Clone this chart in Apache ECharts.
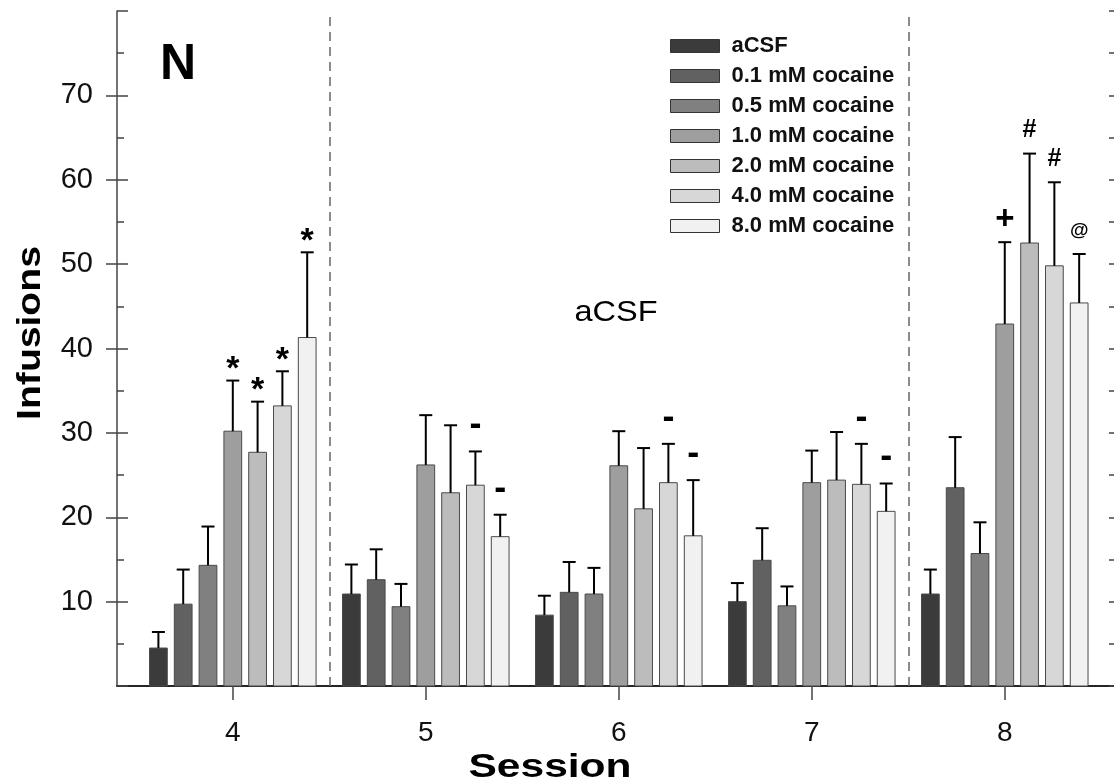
<!DOCTYPE html>
<html>
<head>
<meta charset="utf-8">
<script src="https://cdn.jsdelivr.net/npm/echarts@6.0.0/dist/echarts.min.js"></script>
<style>
html,body{margin:0;padding:0;background:#fff;}
#chart{width:1114px;height:784px;}
</style>
</head>
<body>
<div id="chart"></div>
<script>
// ---- data ----
const sessions = [4, 5, 6, 7, 8];
const treatments = ['aCSF', '0.1 mM cocaine', '0.5 mM cocaine', '1.0 mM cocaine', '2.0 mM cocaine', '4.0 mM cocaine', '8.0 mM cocaine'];
const yTickLabels = [10, 20, 30, 40, 50, 60, 70];
const sessionDividers = [4.5, 7.5];

const meanACSF = [4.5, 10.9, 8.4, 10.0, 10.9];
const mean01 = [9.7, 12.6, 11.1, 14.9, 23.5];
const mean05 = [14.3, 9.4, 10.9, 9.5, 15.7];
const mean10 = [30.2, 26.2, 26.1, 24.1, 42.9];
const mean20 = [27.7, 22.9, 21.0, 24.4, 52.5];
const mean40 = [33.2, 23.8, 24.1, 23.9, 49.8];
const mean80 = [41.3, 17.7, 17.8, 20.7, 45.4];

const semACSF = [1.9, 3.5, 2.3, 2.2, 2.9];
const sem01 = [4.1, 3.6, 3.6, 3.8, 6.0];
const sem05 = [4.6, 2.7, 3.1, 2.3, 3.7];
const sem10 = [6.0, 5.9, 4.1, 3.8, 9.7];
const sem20 = [6.0, 8.0, 7.2, 5.7, 10.6];
const sem40 = [4.1, 4.0, 4.6, 4.8, 9.9];
const sem80 = [10.1, 2.6, 6.6, 3.3, 5.8];

const markACSF = ['', '', '', '', ''];
const mark01 = ['', '', '', '', ''];
const mark05 = ['', '', '', '', ''];
const mark10 = ['*', '', '', '', '+'];
const mark20 = ['*', '', '', '', '#'];
const mark40 = ['*', '-', '-', '-', '#'];
const mark80 = ['*', '-', '-', '-', '@'];

// ---- styling ----
const FONT = '"Liberation Sans", Arial, Helvetica, sans-serif';
const barColors = ['#3b3b3b', '#616161', '#808080', '#9e9e9e', '#bcbcbc', '#d7d7d7', '#f1f1f1'];
const means = [meanACSF, mean01, mean05, mean10, mean20, mean40, mean80];
const sems = [semACSF, sem01, sem05, sem10, sem20, sem40, sem80];
const marks = [markACSF, mark01, mark05, mark10, mark20, mark40, mark80];

const markStyle = {
  '*': { font: 'bold 34px ' + FONT, dy: -11 },
  '-': { font: 'bold 36px ' + FONT, dy: -26 },
  '+': { font: 'bold 33px ' + FONT, dy: -22 },
  '#': { font: 'bold 25px ' + FONT, dy: -23 },
  '@': { font: 'bold 19px ' + FONT, dy: -23 }
};

const X_MIN = 3.4;
const X_MAX = 8.566;

function makeSeries(i) {
  const data = sessions.map((s, k) => [s, means[i][k], sems[i][k]]);
  return {
    type: 'custom',
    name: treatments[i],
    xAxisIndex: 0,
    yAxisIndex: 0,
    data: data,
    encode: { x: 0, y: 1 },
    itemStyle: { color: barColors[i], borderColor: '#4a4a4a', borderWidth: 1 },
    renderItem: function (params, api) {
      const x = api.value(0);
      const m = api.value(1);
      const s = api.value(2);
      const unit = api.size([1, 0])[0];
      const cx = api.coord([x, 0])[0] + (i - 3) * unit * 0.1285;
      const w = unit * 0.092;
      const base = api.coord([x, 0])[1];
      const top = api.coord([x, m])[1];
      const cap = api.coord([x, m + s])[1];
      const children = [
        { type: 'rect', shape: { x: cx - w / 2, y: top, width: w, height: base - top },
          style: { fill: barColors[i], stroke: '#4a4a4a', lineWidth: 1 } },
        { type: 'line', shape: { x1: cx, y1: top, x2: cx, y2: cap },
          style: { stroke: '#000', lineWidth: 2 } },
        { type: 'line', shape: { x1: cx - 6.5, y1: cap, x2: cx + 6.5, y2: cap },
          style: { stroke: '#000', lineWidth: 2 } }
      ];
      const mk = marks[i][params.dataIndex];
      if (mk) {
        const st = markStyle[mk];
        children.push({ type: 'text', x: cx, y: cap + st.dy,
          style: { text: mk, font: st.font, fill: '#000', align: 'center', verticalAlign: 'middle' } });
      }
      return { type: 'group', children: children };
    }
  };
}

const series = treatments.map((t, i) => makeSeries(i));
series.push({
  type: 'line', name: 'dividers', data: [], xAxisIndex: 0, yAxisIndex: 0,
  silent: true,
  markLine: {
    silent: true, symbol: 'none', animation: false,
    label: { show: false },
    lineStyle: { color: '#666', width: 1.5, type: [9, 6] },
    data: sessionDividers.map(v => ({ xAxis: v }))
  }
});

const axisColor = '#444';
const chart = echarts.init(document.getElementById('chart'), null, { renderer: 'canvas' });
chart.setOption({
  animation: false,
  backgroundColor: '#fff',
  textStyle: { fontFamily: FONT },
  grid: { left: 117, top: 11, right: 0, bottom: 98, containLabel: false },
  legend: {
    orient: 'vertical', left: 670, top: 35, padding: 0,
    itemWidth: 49, itemHeight: 13, itemGap: 8, icon: 'rect',
    selectedMode: false,
    textStyle: { fontSize: 22, fontWeight: 'bold', color: '#111', fontFamily: FONT, lineHeight: 22, padding: [0, 0, 0, 7] },
    data: treatments.map((t, i) => ({ name: t, itemStyle: { color: barColors[i], borderColor: '#333', borderWidth: 1 } }))
  },
  xAxis: [
    {
      type: 'value', min: X_MIN, max: X_MAX, position: 'bottom',
      axisLine: { show: true, lineStyle: { color: '#333', width: 1.5 } },
      axisTick: { show: true, length: 14, inside: false, customValues: sessions, lineStyle: { color: axisColor, width: 1.5 } },
      axisLabel: { customValues: sessions, fontSize: 28, color: '#111', margin: 33, fontFamily: FONT },
      splitLine: { show: false }
    },
    {
      type: 'value', min: X_MIN, max: X_MAX, position: 'top',
      axisLine: { show: true, lineStyle: { color: '#111', width: 1.5 } },
      axisTick: { show: false }, axisLabel: { show: false }, splitLine: { show: false }
    }
  ],
  yAxis: [
    {
      type: 'value', min: 0, max: 80, interval: 10, position: 'left',
      axisLine: { show: true, lineStyle: { color: axisColor, width: 1.5 } },
      axisTick: { show: true, length: 11, inside: false, customValues: yTickLabels, lineStyle: { color: axisColor, width: 1.5 } },
      axisLabel: { fontSize: 29, color: '#111', margin: 24, fontFamily: FONT, customValues: yTickLabels },
      splitLine: { show: false }
    },
    {
      type: 'value', min: 0, max: 80, interval: 10, position: 'left',
      axisLine: { show: false },
      axisTick: { show: true, length: 11, inside: true, lineStyle: { color: axisColor, width: 1.5 } },
      minorTick: { show: true, splitNumber: 2, length: 7, lineStyle: { color: axisColor, width: 1.5 } },
      axisLabel: { show: false }, splitLine: { show: false }
    },
    {
      type: 'value', min: 0, max: 80, interval: 10, position: 'right',
      axisLine: { show: false },
      axisTick: { show: true, length: 5, inside: true, lineStyle: { color: axisColor, width: 1.5 } },
      minorTick: { show: true, splitNumber: 2, length: 5, lineStyle: { color: axisColor, width: 1.5 } },
      axisLabel: { show: false }, splitLine: { show: false }
    }
  ],
  graphic: [
    { type: 'text', x: 160, y: 65, style: { text: 'N', font: 'bold 50px ' + FONT, fill: '#000', align: 'left', verticalAlign: 'middle' } },
    { type: 'text', x: 616, y: 313, scaleX: 1.12, style: { text: 'aCSF', font: '29px ' + FONT, fill: '#000', align: 'center', verticalAlign: 'middle' } },
    { type: 'text', x: 31, y: 333, rotation: Math.PI / 2, scaleX: 1.15, style: { text: 'Infusions', font: 'bold 34px ' + FONT, fill: '#000', align: 'center', verticalAlign: 'middle' } },
    { type: 'text', x: 550, y: 768, scaleX: 1.25, style: { text: 'Session', font: 'bold 34px ' + FONT, fill: '#000', align: 'center', verticalAlign: 'middle' } }
  ],
  series: series
});
</script>
</body>
</html>
